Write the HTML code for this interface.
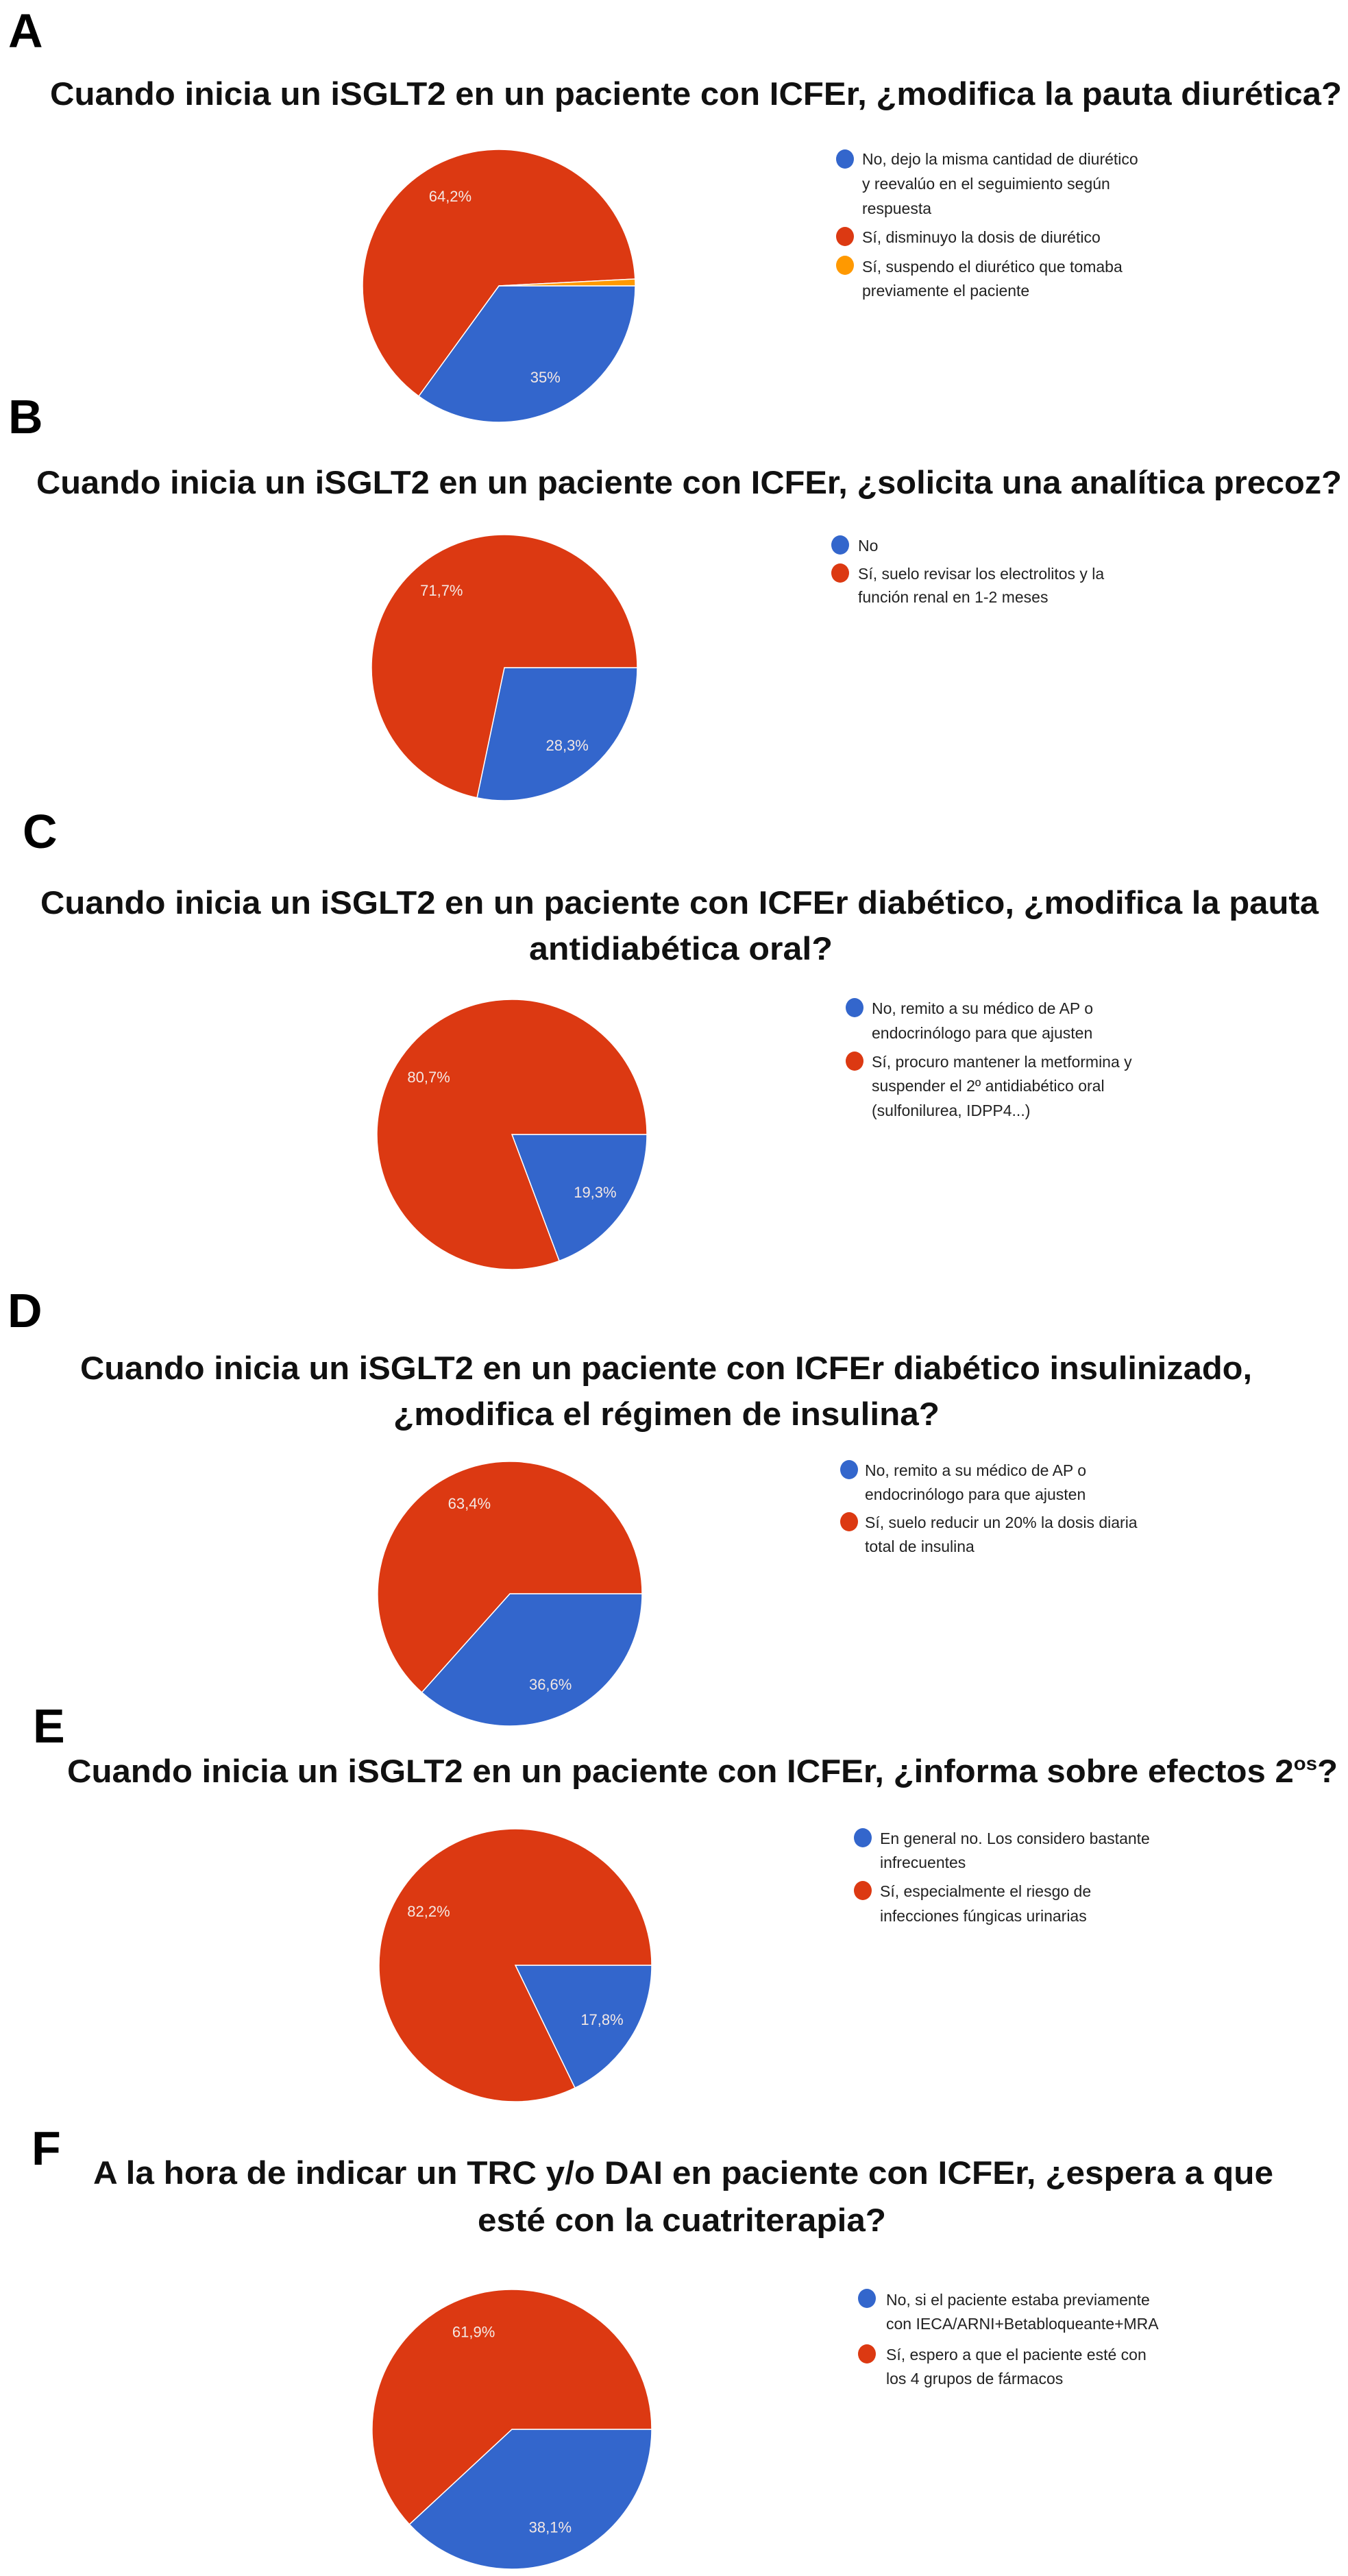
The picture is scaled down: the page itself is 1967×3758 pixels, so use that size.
<!DOCTYPE html>
<html><head><meta charset="utf-8">
<style>
html,body{margin:0;padding:0;background:#fff;}
svg{display:block;}
.ttl{font-family:"Liberation Sans",sans-serif;font-weight:bold;font-size:47px;fill:#111;}
.pl{font-family:"Liberation Sans",sans-serif;font-weight:bold;font-size:70px;fill:#000;}
.lg{font-family:"Liberation Sans",sans-serif;font-size:23px;fill:#222;}
.vl{font-family:"Liberation Sans",sans-serif;font-size:22px;fill:#f4e8e4;}
</style></head>
<body>
<svg id="fig" width="1967" height="3758" viewBox="0 0 1967 3758" xmlns="http://www.w3.org/2000/svg">
<g>
<text class="pl" x="12" y="69">A</text>
<text class="ttl" x="73" y="153" textLength="1885" lengthAdjust="spacingAndGlyphs">Cuando inicia un iSGLT2 en un paciente con ICFEr, ¿modifica la pauta diurética?</text>
<g id="pieA"></g>
<g>
<ellipse cx="1233" cy="232" rx="13" ry="14" fill="#3366cc"/>
<text class="lg" x="1258" y="240"><tspan x="1258">No, dejo la misma cantidad de diurético</tspan><tspan x="1258" dy="36">y reevalúo en el seguimiento según</tspan><tspan x="1258" dy="36">respuesta</tspan></text>
<ellipse cx="1233" cy="345" rx="13" ry="14" fill="#dc3912"/>
<text class="lg" x="1258" y="354">Sí, disminuyo la dosis de diurético</text>
<ellipse cx="1233" cy="387" rx="13" ry="14" fill="#ff9900"/>
<text class="lg" x="1258" y="397"><tspan x="1258">Sí, suspendo el diurético que tomaba</tspan><tspan x="1258" dy="35">previamente el paciente</tspan></text>
</g></g>

<g>
<text class="pl" x="12" y="632">B</text>
<text class="ttl" x="53" y="720" textLength="1905" lengthAdjust="spacingAndGlyphs">Cuando inicia un iSGLT2 en un paciente con ICFEr, ¿solicita una analítica precoz?</text>
<g id="pieB"></g>
<g>
<ellipse cx="1226" cy="795" rx="13" ry="14" fill="#3366cc"/>
<text class="lg" x="1252" y="804">No</text>
<ellipse cx="1226" cy="836" rx="13" ry="14" fill="#dc3912"/>
<text class="lg" x="1252" y="845"><tspan x="1252">Sí, suelo revisar los electrolitos y la</tspan><tspan x="1252" dy="34">función renal en 1-2 meses</tspan></text>
</g></g>

<g>
<text class="pl" x="33" y="1237">C</text>
<text class="ttl" x="59" y="1333" textLength="1865" lengthAdjust="spacingAndGlyphs">Cuando inicia un iSGLT2 en un paciente con ICFEr diabético, ¿modifica la pauta</text>
<text class="ttl" x="772" y="1400" textLength="443" lengthAdjust="spacingAndGlyphs">antidiabética oral?</text>
<g id="pieC"></g>
<g>
<ellipse cx="1247" cy="1470" rx="13" ry="14" fill="#3366cc"/>
<text class="lg" x="1272" y="1479"><tspan x="1272">No, remito a su médico de AP o</tspan><tspan x="1272" dy="36">endocrinólogo para que ajusten</tspan></text>
<ellipse cx="1247" cy="1548" rx="13" ry="14" fill="#dc3912"/>
<text class="lg" x="1272" y="1557"><tspan x="1272">Sí, procuro mantener la metformina y</tspan><tspan x="1272" dy="35">suspender el 2º antidiabético oral</tspan><tspan x="1272" dy="36">(sulfonilurea, IDPP4...)</tspan></text>
</g></g>

<g>
<text class="pl" x="11" y="1936">D</text>
<text class="ttl" x="117" y="2012" textLength="1710" lengthAdjust="spacingAndGlyphs">Cuando inicia un iSGLT2 en un paciente con ICFEr diabético insulinizado,</text>
<text class="ttl" x="574" y="2079" textLength="797" lengthAdjust="spacingAndGlyphs">¿modifica el régimen de insulina?</text>
<g id="pieD"></g>
<g>
<ellipse cx="1239" cy="2144" rx="13" ry="14" fill="#3366cc"/>
<text class="lg" x="1262" y="2153"><tspan x="1262">No, remito a su médico de AP o</tspan><tspan x="1262" dy="35">endocrinólogo para que ajusten</tspan></text>
<ellipse cx="1239" cy="2220" rx="13" ry="14" fill="#dc3912"/>
<text class="lg" x="1262" y="2229"><tspan x="1262">Sí, suelo reducir un 20% la dosis diaria</tspan><tspan x="1262" dy="35">total de insulina</tspan></text>
</g></g>

<g>
<text class="pl" x="48" y="2542">E</text>
<text class="ttl" x="98" y="2600" textLength="1854" lengthAdjust="spacingAndGlyphs">Cuando inicia un iSGLT2 en un paciente con ICFEr, ¿informa sobre efectos 2<tspan font-size="28" dy="-18">os</tspan><tspan dy="18">?</tspan></text>
<g id="pieE"></g>
<g>
<ellipse cx="1259" cy="2681" rx="13" ry="14" fill="#3366cc"/>
<text class="lg" x="1284" y="2690"><tspan x="1284">En general no. Los considero bastante</tspan><tspan x="1284" dy="35">infrecuentes</tspan></text>
<ellipse cx="1259" cy="2758" rx="13" ry="14" fill="#dc3912"/>
<text class="lg" x="1284" y="2767"><tspan x="1284">Sí, especialmente el riesgo de</tspan><tspan x="1284" dy="36">infecciones fúngicas urinarias</tspan></text>
</g></g>

<g>
<text class="pl" x="46" y="3158">F</text>
<text class="ttl" x="136" y="3186" textLength="1722" lengthAdjust="spacingAndGlyphs">A la hora de indicar un TRC y/o DAI en paciente con ICFEr, ¿espera a que</text>
<text class="ttl" x="697" y="3255" textLength="596" lengthAdjust="spacingAndGlyphs">esté con la cuatriterapia?</text>
<g id="pieF"></g>
<g>
<ellipse cx="1265" cy="3353" rx="13" ry="14" fill="#3366cc"/>
<text class="lg" x="1293" y="3363"><tspan x="1293">No, si el paciente estaba previamente</tspan><tspan x="1293" dy="35">con IECA/ARNI+Betabloqueante+MRA</tspan></text>
<ellipse cx="1265" cy="3434" rx="13" ry="14" fill="#dc3912"/>
<text class="lg" x="1293" y="3443"><tspan x="1293">Sí, espero a que el paciente esté con</tspan><tspan x="1293" dy="35">los 4 grupos de fármacos</tspan></text>
</g></g>
</svg>
<script>
// data arrays (percent shares, clockwise from 3 o'clock: blue, red, orange)
const pieAValues = [35, 64.2, 0.8];
const pieALabels = ["35%", "64,2%", ""];
const pieBValues = [28.3, 71.7];
const pieBLabels = ["28,3%", "71,7%"];
const pieCValues = [19.3, 80.7];
const pieCLabels = ["19,3%", "80,7%"];
const pieDValues = [36.6, 63.4];
const pieDLabels = ["36,6%", "63,4%"];
const pieEValues = [17.8, 82.2];
const pieELabels = ["17,8%", "82,2%"];
const pieFValues = [38.1, 61.9];
const pieFLabels = ["38,1%", "61,9%"];
const colors = ["#3366cc", "#dc3912", "#ff9900"];
const NS = "http://www.w3.org/2000/svg";

function drawPie(id, vals, labels, cx, cy, r) {
  const g = document.getElementById(id);
  const total = vals.reduce((a, b) => a + b, 0);
  let a0 = 0;
  vals.forEach((v, i) => {
    const frac = v / total;
    const a1 = a0 + frac * 2 * Math.PI;
    const x0 = cx + r * Math.cos(a0), y0 = cy + r * Math.sin(a0);
    const x1 = cx + r * Math.cos(a1), y1 = cy + r * Math.sin(a1);
    const large = frac > 0.5 ? 1 : 0;
    const p = document.createElementNS(NS, "path");
    p.setAttribute("d", `M${cx},${cy} L${x0},${y0} A${r},${r} 0 ${large} 1 ${x1},${y1} Z`);
    p.setAttribute("fill", colors[i]);
    p.setAttribute("stroke", "#fff");
    p.setAttribute("stroke-width", "1.5");
    
    
    g.appendChild(p);
    if (labels[i]) {
      const am = (a0 + a1) / 2;
      const t = document.createElementNS(NS, "text");
      t.setAttribute("x", cx + 0.75 * r * Math.cos(am));
      t.setAttribute("y", cy + 0.75 * r * Math.sin(am) + 8);
      t.setAttribute("text-anchor", "middle");
      t.setAttribute("class", "vl");
      t.textContent = labels[i];
      
      
      g.appendChild(t);
    }
    a0 = a1;
  });
}
drawPie("pieA", pieAValues, pieALabels, 728, 417, 199);
drawPie("pieB", pieBValues, pieBLabels, 736, 974, 194);
drawPie("pieC", pieCValues, pieCLabels, 747, 1655, 197);
drawPie("pieD", pieDValues, pieDLabels, 744, 2325, 193);
drawPie("pieE", pieEValues, pieELabels, 752, 2867, 199);
drawPie("pieF", pieFValues, pieFLabels, 747, 3544, 204);
</script>
</body></html>
